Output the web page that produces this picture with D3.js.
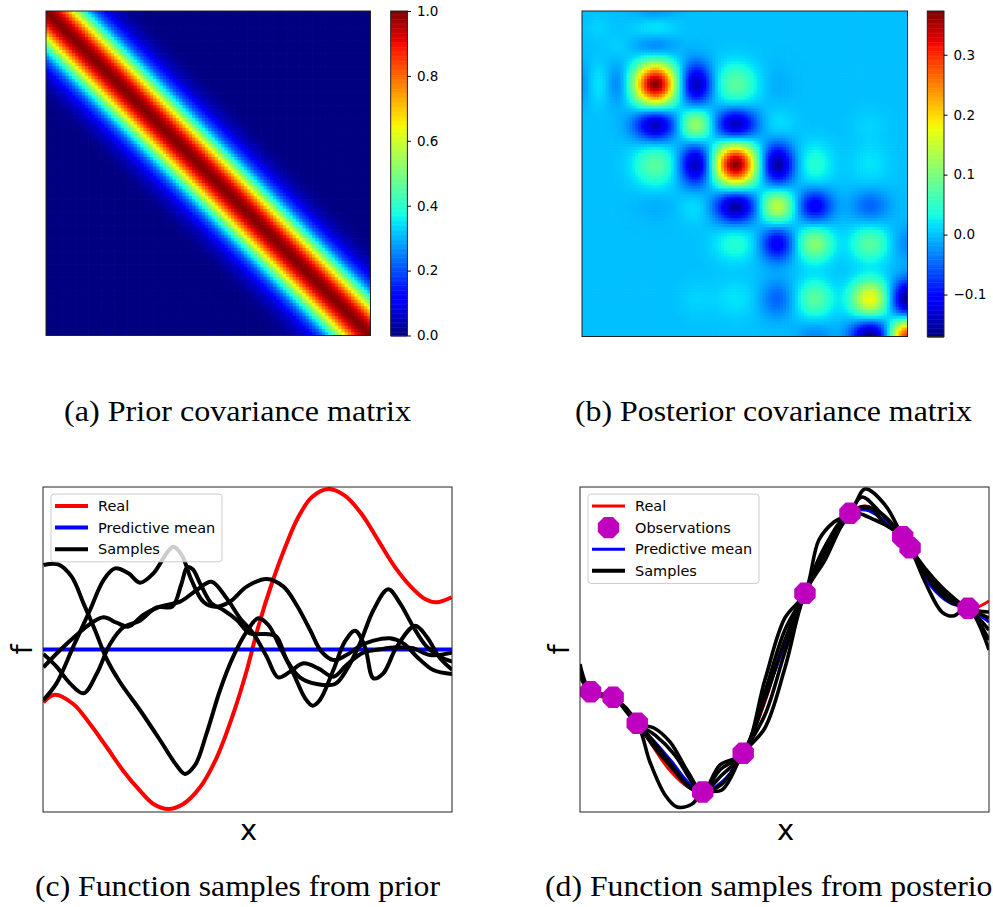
<!DOCTYPE html>
<html><head><meta charset="utf-8">
<script src="https://cdn.jsdelivr.net/npm/d3@7"></script>
<style>
body{margin:0;background:#fff;}
svg{display:block;font-family:"DejaVu Sans",sans-serif;}
</style></head><body>
<svg id="fig" width="993" height="907"></svg>
<script>
// ---------------- DATA ----------------
// (a) prior covariance: value as a function of lag |xi-xj| (fraction of the input range)
const priorLag = [0, 0.02, 0.04, 0.065, 0.09, 0.12, 0.15, 0.2, 0.25, 0.3, 1];
const priorCov = [1.0, 0.97, 0.90, 0.75, 0.58, 0.38, 0.22, 0.07, 0.015, 0.0, 0.0];
const priorTicks = [0.0, 0.2, 0.4, 0.6, 0.8, 1.0];
const priorRange = [0, 1];

// (b) posterior covariance: blobs located at node positions (fraction of input range)
const postNodes  = [0.0, 0.05, 0.112, 0.225, 0.35, 0.472, 0.6, 0.715, 0.885, 1.0];
const postWidths = [0.026, 0.026, 0.027, 0.045, 0.035, 0.045, 0.036, 0.038, 0.041, 0.037];
const postAmps = [
  [0,      0,     0,    -0.025, 0,     0,     0,     0,     0,     0],
  [0,      0.01,  0,     0.025, 0,     0,     0,     0,     0,     0],
  [0,      0,     0.01, -0.04,  0,     0,     0,     0,     0,     0],
  [-0.025, 0.025,-0.04,  0.37, -0.15,  0.08, -0.01,  0,     0,     0],
  [0,      0,     0,    -0.15,  0.13, -0.15,  0.02,  0,     0.01,  0],
  [0,      0,     0,     0.08, -0.15,  0.37, -0.16,  0.045, 0.02,  0],
  [0,      0,     0,    -0.01,  0.02, -0.16,  0.15, -0.115,-0.05,  0],
  [0,      0,     0,     0,     0,     0.045,-0.115, 0.11,  0.08, -0.03],
  [0,      0,     0,     0,     0.01,  0.02, -0.05,  0.08,  0.18, -0.17],
  [0,      0,     0,     0,     0,     0,     0,    -0.03, -0.17,  0.30]
];
const postTicks = [-0.1, 0.0, 0.1, 0.2, 0.3];
const postRange = [-0.17, 0.373];

// (c) function samples from prior
const priorReal = [[0.001,-0.975],[0.029,-0.834],[0.074,-1.006],[0.115,-1.375],[0.156,-1.805],[0.196,-2.237],[0.237,-2.607],[0.270,-2.852],[0.306,-2.945],[0.343,-2.852],[0.384,-2.544],[0.425,-1.990],[0.465,-1.191],[0.498,-0.391],[0.526,0.410],[0.559,1.209],[0.592,1.887],[0.624,2.440],[0.657,2.810],[0.698,2.963],[0.738,2.839],[0.779,2.501],[0.820,2.009],[0.861,1.517],[0.901,1.148],[0.934,0.932],[0.962,0.871],[0.999,0.964]];
const priorMean = [[0,0],[1,0]];
const priorSampleA = [[0.001,1.560],[0.037,1.572],[0.070,1.345],[0.099,0.852],[0.127,0.360],[0.156,-0.180],[0.188,-0.600],[0.237,-1.117],[0.286,-1.671],[0.323,-2.102],[0.347,-2.298],[0.372,-2.132],[0.400,-1.548],[0.433,-0.748],[0.465,-0.132],[0.498,0.329],[0.526,0.575],[0.551,0.452],[0.579,0.052],[0.612,-0.440],[0.641,-0.902],[0.659,-1.037],[0.677,-0.932],[0.710,-0.378],[0.738,0.145],[0.763,0.348],[0.787,0.052],[0.808,-0.532],[0.832,-0.440],[0.865,0.052],[0.910,0.440],[0.938,0.237],[0.971,-0.163],[1.001,-0.378]];
const priorSampleB = [[0.001,-0.932],[0.033,-0.625],[0.074,0.052],[0.115,0.729],[0.148,1.283],[0.176,1.498],[0.209,1.406],[0.237,1.234],[0.270,1.406],[0.302,1.775],[0.319,1.898],[0.339,1.745],[0.363,1.283],[0.392,0.883],[0.421,0.791],[0.457,0.883],[0.498,1.160],[0.547,1.302],[0.588,1.160],[0.620,0.822],[0.653,0.360],[0.681,-0.040],[0.710,-0.194],[0.742,-0.102],[0.775,0.065],[0.808,0.163],[0.848,0.206],[0.881,0.114],[0.914,-0.132],[0.954,-0.378],[1.001,-0.452]];
const priorSampleC = [[0.001,-0.083],[0.033,-0.317],[0.066,-0.625],[0.099,-0.809],[0.131,-0.452],[0.164,0.102],[0.196,0.409],[0.237,0.532],[0.278,0.778],[0.316,0.790],[0.338,1.200],[0.353,1.520],[0.366,1.480],[0.386,1.190],[0.412,0.852],[0.441,0.729],[0.474,0.545],[0.506,0.298],[0.547,0.286],[0.571,0.237],[0.596,-0.194],[0.628,-0.514],[0.669,-0.637],[0.714,-0.637],[0.742,-0.378],[0.775,0.114],[0.808,0.729],[0.844,1.111],[0.873,0.852],[0.905,0.422],[0.938,0.052],[0.971,-0.132],[1.001,-0.225]];
const priorSampleD = [[0.001,-0.329],[0.042,-0.009],[0.082,0.268],[0.115,0.471],[0.148,0.594],[0.180,0.495],[0.209,0.422],[0.245,0.637],[0.286,0.791],[0.335,0.883],[0.376,1.098],[0.412,1.252],[0.449,0.945],[0.482,0.575],[0.514,0.298],[0.547,-0.132],[0.575,-0.514],[0.604,-0.409],[0.637,-0.255],[0.673,-0.348],[0.710,-0.502],[0.742,-0.286],[0.783,-0.058],[0.824,0.003],[0.865,0.040],[0.905,0.022],[0.946,-0.102],[1.001,-0.058]];
const priorSamples = [priorSampleA, priorSampleB, priorSampleC, priorSampleD];

// (d) function samples from posterior
const postObs = [[0.026,-0.779],[0.081,-0.882],[0.140,-1.362],[0.300,-2.631],[0.399,-1.916],[0.550,1.037],[0.660,2.514],[0.789,2.082],[0.807,1.879],[0.949,0.761]];
const postReal = [[0,-0.397],[0.026,-0.779],[0.054,-0.877],[0.081,-0.882],[0.110,-1.080],[0.140,-1.362],[0.176,-1.763],[0.213,-2.169],[0.257,-2.501],[0.300,-2.631],[0.342,-2.501],[0.399,-1.916],[0.445,-1.117],[0.489,-0.102],[0.550,1.037],[0.606,1.929],[0.660,2.514],[0.699,2.649],[0.743,2.483],[0.789,2.082],[0.807,1.879],[0.856,1.283],[0.905,0.914],[0.949,0.761],[0.973,0.785],[1.0,0.895]];
const postMean = [[0,-0.360],[0.026,-0.779],[0.081,-0.882],[0.140,-1.362],[0.183,-1.707],[0.225,-2.077],[0.264,-2.446],[0.300,-2.631],[0.347,-2.446],[0.399,-1.916],[0.445,-1.043],[0.494,-0.046],[0.550,1.037],[0.606,1.985],[0.660,2.514],[0.699,2.575],[0.743,2.391],[0.789,2.082],[0.807,1.879],[0.856,1.191],[0.905,0.858],[0.949,0.761],[0.973,0.655],[1.0,0.508]];
const postSample1 = [[0,-0.268],[0.026,-0.779],[0.081,-0.882],[0.140,-1.362],[0.181,-1.449],[0.220,-1.707],[0.264,-2.261],[0.300,-2.631],[0.342,-2.132],[0.399,-1.916],[0.452,-0.563],[0.501,0.582],[0.550,1.037],[0.584,2.021],[0.621,2.354],[0.660,2.514],[0.697,2.963],[0.746,2.667],[0.789,2.082],[0.807,1.879],[0.851,1.431],[0.892,1.098],[0.949,0.761],[1.0,0.692]];
const postSample2 = [[0,-0.489],[0.026,-0.779],[0.081,-0.882],[0.140,-1.362],[0.171,-2.077],[0.208,-2.686],[0.237,-2.907],[0.274,-2.852],[0.300,-2.631],[0.347,-2.594],[0.399,-1.916],[0.452,-1.449],[0.501,-0.342],[0.550,1.037],[0.599,1.652],[0.660,2.514],[0.704,2.631],[0.746,2.317],[0.789,2.082],[0.807,1.879],[0.846,1.209],[0.885,0.692],[0.912,0.618],[0.949,0.761],[1.0,-0.009]];
const postSample3 = [[0,-0.378],[0.026,-0.779],[0.081,-0.882],[0.140,-1.362],[0.176,-1.670],[0.215,-2.040],[0.264,-2.501],[0.300,-2.631],[0.347,-2.317],[0.399,-1.916],[0.452,-0.932],[0.501,0.175],[0.550,1.037],[0.606,1.874],[0.660,2.514],[0.689,2.815],[0.733,2.538],[0.789,2.082],[0.807,1.879],[0.856,1.283],[0.900,0.951],[0.949,0.761],[1.0,0.360]];
const postSample4 = [[0,-0.342],[0.026,-0.779],[0.081,-0.882],[0.140,-1.362],[0.183,-1.818],[0.225,-2.187],[0.269,-2.557],[0.300,-2.631],[0.347,-2.483],[0.399,-1.916],[0.452,-1.209],[0.501,-0.046],[0.550,1.037],[0.606,1.985],[0.660,2.514],[0.709,2.612],[0.748,2.428],[0.789,2.082],[0.807,1.879],[0.868,1.135],[0.910,0.858],[0.949,0.761],[1.0,0.175]];
const postSample5 = [[0,-0.415],[0.026,-0.779],[0.081,-0.882],[0.140,-1.362],[0.183,-1.578],[0.232,-1.948],[0.274,-2.446],[0.300,-2.631],[0.342,-2.225],[0.399,-1.916],[0.452,-0.785],[0.501,0.360],[0.550,1.037],[0.592,1.800],[0.660,2.514],[0.721,2.391],[0.789,2.082],[0.807,1.879],[0.851,1.357],[0.895,1.024],[0.949,0.761],[1.0,0.582]];
const postSamples = [postSample1, postSample2, postSample3, postSample4, postSample5];

const xDomain = [0, 1];
const yDomain = [-3, 3];
const captions = ["(a) Prior covariance matrix", "(b) Posterior covariance matrix",
                  "(c) Function samples from prior", "(d) Function samples from posterior"];

// ---------------- DRAWING ----------------
const svg = d3.select('#fig');
const defs = svg.append('defs');

// matplotlib "jet" colormap
const jetR = [[0,0],[0.35,0],[0.66,1],[0.89,1],[1,0.5]];
const jetG = [[0,0],[0.125,0],[0.375,1],[0.64,1],[0.91,0],[1,0]];
const jetB = [[0,0.5],[0.11,1],[0.34,1],[0.65,0],[1,0]];
function seg(pts, t){
  for (let i = 1; i < pts.length; i++) {
    if (t <= pts[i][0]) { const [x0,y0] = pts[i-1], [x1,y1] = pts[i]; return y0 + (y1-y0)*(t-x0)/(x1-x0); }
  }
  return pts[pts.length-1][1];
}
function jet(t){
  t = Math.max(0, Math.min(1, t));
  return d3.rgb(255*seg(jetR,t), 255*seg(jetG,t), 255*seg(jetB,t)).formatHex();
}

const priorProfile = d3.scaleLinear().domain(priorLag).range(priorCov).clamp(true);
function priorValue(u, v){ return priorProfile(Math.abs(u - v)); }
function postValue(u, v){ // u = row position, v = column position
  let s = 0;
  for (let i = 0; i < postNodes.length; i++) {
    const dy = (u - postNodes[i]) / postWidths[i];
    const ey = Math.exp(-0.5*dy*dy);
    if (ey < 1e-4) continue;
    for (let j = 0; j < postNodes.length; j++) {
      const a = postAmps[i][j]; if (!a) continue;
      const dx = (v - postNodes[j]) / postWidths[j];
      s += a * ey * Math.exp(-0.5*dx*dx);
    }
  }
  return s;
}

function heatmap(id, x0, y0, size, n, valueFn, centered, range, ticks, cbX){
  const g = svg.append('g');
  const idx = d3.range(n);
  const xs = d3.scaleBand().domain(idx).range([x0, x0+size]);
  const ys = d3.scaleBand().domain(idx).range([y0, y0+size]);
  const pos = d3.scaleLinear().domain([0, n-1]).range(centered ? [0.5/n, 1-0.5/n] : [0, 1]);
  const color = d3.scaleSequential(jet).domain(range);
  const cells = [];
  for (const i of idx) for (const j of idx) cells.push({i, j, v: valueFn(pos(i), pos(j))});
  defs.append('clipPath').attr('id', 'clip'+id).append('rect')
     .attr('x', x0).attr('y', y0).attr('width', size).attr('height', size);
  g.append('g').attr('clip-path', `url(#clip${id})`)
   .selectAll('rect').data(cells).join('rect')
   .attr('x', d => xs(d.j)).attr('y', d => ys(d.i))
   .attr('width', xs.bandwidth()+0.7).attr('height', ys.bandwidth()+0.7)
   .attr('fill', d => color(d.v));
  g.append('rect').attr('x', x0).attr('y', y0).attr('width', size).attr('height', size)
   .attr('fill', 'none').attr('stroke', '#222').attr('stroke-width', 1);

  // colorbar
  const cbW = 16.7;
  const cy = d3.scaleLinear().domain(range).range([y0+size, y0]);
  const steps = d3.range(0, 256).map(k => range[0] + (range[1]-range[0])*k/255);
  const step = (range[1]-range[0])/255;
  g.append('g').selectAll('rect').data(steps).join('rect')
   .attr('x', cbX).attr('width', cbW)
   .attr('y', d => cy(Math.min(range[1], d + step/2)))
   .attr('height', d => Math.abs(cy(d - step/2) - cy(d + step/2)) + 0.5)
   .attr('fill', d => color(d));
  g.append('rect').attr('x', cbX).attr('y', y0).attr('width', cbW).attr('height', size)
   .attr('fill', 'none').attr('stroke', '#222').attr('stroke-width', 1);
  const ax = g.append('g').attr('transform', `translate(${cbX+cbW},0)`)
   .call(d3.axisRight(cy).tickValues(ticks).tickSize(3.5).tickPadding(6).tickFormat(d3.format('.1f')));
  ax.select('.domain').remove();
  ax.selectAll('text').attr('font-size', 13.5).attr('font-family', '"DejaVu Sans", sans-serif').attr('fill', '#000');
  ax.selectAll('line').attr('stroke', '#000');
}

heatmap('a', 46, 11, 324.5, 100, priorValue, false, priorRange, priorTicks, 390.7);
heatmap('b', 582, 11, 325.5, 110, postValue, true, postRange, postTicks, 927.3);

// octagon marker path (flat top)
function octagon(r){
  const pts = d3.range(8).map(k => { const a = (22.5 + 45*k) * Math.PI/180; return [r*Math.cos(a), r*Math.sin(a)]; });
  return d3.line()(pts) + 'Z';
}
const MAG = '#bf00bf';

function linePanel(id, x0, y0, w, h, opts){
  const g = svg.append('g');
  const x = d3.scaleLinear().domain(xDomain).range([x0, x0+w]);
  const y = d3.scaleLinear().domain(yDomain).range([y0+h, y0]);
  const line = d3.line().x(d => x(d[0])).y(d => y(d[1])).curve(d3.curveCatmullRom.alpha(0.5));
  defs.append('clipPath').attr('id', 'clip'+id).append('rect')
     .attr('x', x0).attr('y', y0).attr('width', w).attr('height', h);
  const pg = g.append('g').attr('clip-path', `url(#clip${id})`);
  pg.append('path').datum(opts.real).attr('d', line).attr('fill', 'none')
    .attr('stroke', '#ff0000').attr('stroke-width', opts.realW);
  pg.append('path').datum(opts.mean).attr('d', line).attr('fill', 'none')
    .attr('stroke', '#0000ff').attr('stroke-width', opts.meanW);
  pg.selectAll('path.sample').data(opts.samples).join('path').attr('class', 'sample')
    .attr('d', line).attr('fill', 'none').attr('stroke', '#000').attr('stroke-width', opts.sampleW)
    .attr('stroke-linejoin', 'round');
  if (opts.obs) {
    pg.selectAll('path.obs').data(opts.obs).join('path').attr('class', 'obs')
      .attr('d', octagon(11.6)).attr('transform', d => `translate(${x(d[0])},${y(d[1])})`)
      .attr('fill', MAG);
  }
  g.append('rect').attr('x', x0).attr('y', y0).attr('width', w).attr('height', h)
   .attr('fill', 'none').attr('stroke', '#222').attr('stroke-width', 1);

  // legend
  const lg = g.append('g').attr('transform', `translate(${x0+8},${y0+7})`);
  const items = opts.legend;
  const rowH = 21.6;
  lg.append('rect').attr('x', 0).attr('y', 0).attr('width', opts.legendW)
    .attr('height', items.length*rowH + 3).attr('rx', 3).attr('ry', 3)
    .attr('fill', '#fff').attr('fill-opacity', 0.8).attr('stroke', '#cccccc').attr('stroke-width', 1);
  items.forEach((it, k) => {
    const cy = 12 + k*rowH;
    if (it.type === 'line') {
      lg.append('line').attr('x1', 4).attr('x2', 37).attr('y1', cy).attr('y2', cy)
        .attr('stroke', it.color).attr('stroke-width', it.w);
    } else {
      lg.append('path').attr('d', octagon(11.6)).attr('transform', `translate(20.5,${cy})`).attr('fill', MAG);
    }
    lg.append('text').attr('x', 47).attr('y', cy).attr('dy', '0.35em')
      .attr('font-size', 14.5).attr('fill', '#000').text(it.label);
  });

  // axis labels
  g.append('text').attr('x', x0 + w/2 + 1).attr('y', y0 + h + 28).attr('text-anchor', 'middle')
   .attr('font-size', 29).attr('fill', '#000').text('x');
  g.append('text').attr('transform', `translate(${x0-11},${y0 + h/2})rotate(-90)`)
   .attr('text-anchor', 'middle').attr('font-size', 29).attr('fill', '#000').text('f');
}

linePanel('c', 43, 487, 409, 325, {
  real: priorReal, mean: priorMean, samples: priorSamples,
  realW: 4, meanW: 4, sampleW: 4, legendW: 171,
  legend: [{type:'line', color:'#ff0000', w:4, label:'Real'},
           {type:'line', color:'#0000ff', w:4, label:'Predictive mean'},
           {type:'line', color:'#000', w:4, label:'Samples'}]
});
linePanel('d', 580, 487, 409, 325, {
  real: postReal, mean: postMean, samples: postSamples, obs: postObs,
  realW: 3, meanW: 3, sampleW: 3.6, legendW: 171,
  legend: [{type:'line', color:'#ff0000', w:3, label:'Real'},
           {type:'marker', label:'Observations'},
           {type:'line', color:'#0000ff', w:3, label:'Predictive mean'},
           {type:'line', color:'#000', w:4, label:'Samples'}]
});

// captions
const capPos = [[64, 421, 347], [575, 421, 397], [35, 896, 405], [545, 896, 458]];
svg.append('g').selectAll('text').data(captions).join('text')
  .attr('x', (d, i) => capPos[i][0]).attr('y', (d, i) => capPos[i][1])
  .attr('textLength', (d, i) => capPos[i][2]).attr('lengthAdjust', 'spacingAndGlyphs')
  .attr('font-family', '"Liberation Serif", serif').attr('font-size', 29).attr('fill', '#000')
  .text(d => d);
</script>
</body></html>
